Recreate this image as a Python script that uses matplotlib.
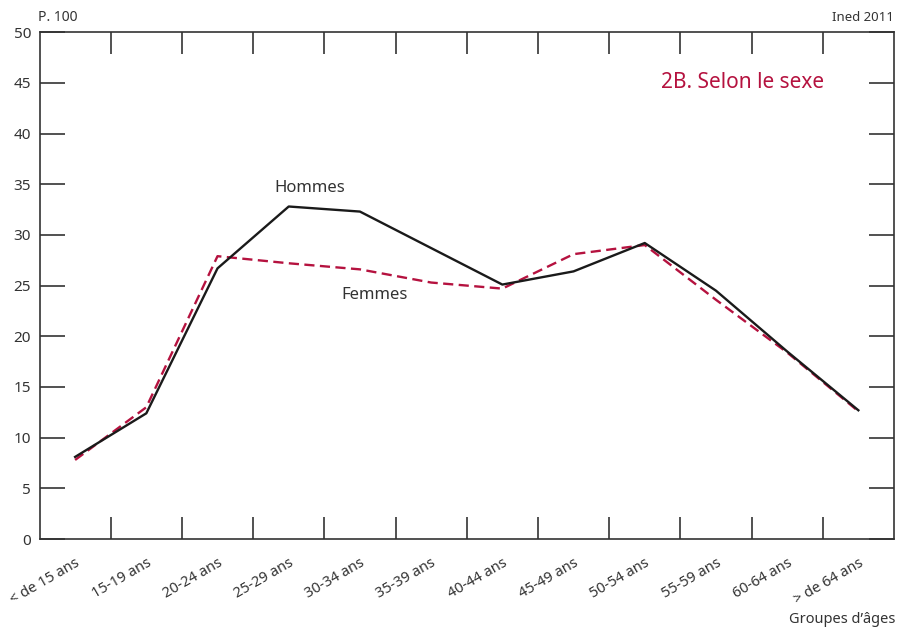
import matplotlib
matplotlib.use("Agg")
import matplotlib.pyplot as plt

plt.rcParams["font.family"] = ["Noto Sans", "DejaVu Sans"]

groupes = ["< de 15 ans", "15-19 ans", "20-24 ans", "25-29 ans", "30-34 ans",
           "35-39 ans", "40-44 ans", "45-49 ans", "50-54 ans", "55-59 ans",
           "60-64 ans", "> de 64 ans"]
hommes = [8.1, 12.4, 26.7, 32.8, 32.3, 28.7, 25.1, 26.4, 29.2, 24.5, 18.5, 12.7]
femmes = [7.8, 13.0, 27.9, 27.2, 26.6, 25.3, 24.7, 28.1, 29.0, 23.6, 18.4, 12.6]

rouge = "#b5123f"
gris = "#333333"

fig = plt.figure(figsize=(8.98, 6.30), dpi=100)
ax = fig.add_axes([0.044, 0.1444, 0.9515, 0.8046])

x = list(range(len(groupes)))
ax.plot(x, femmes, color=rouge, lw=1.7, dashes=(4.3, 2.3))
ax.plot(x, hommes, color="#1a1a1a", lw=1.7)

ax.set_xlim(-0.5, len(groupes) - 0.5)
ax.set_ylim(0, 50)
ax.set_yticks(range(0, 51, 5))
ax.tick_params(axis="y", direction="in", length=18, width=1.2, color=gris,
               right=True, labelsize=11, labelcolor=gris, pad=6)

# graduations entre les groupes, libellés au centre
ax.set_xticks(x)
ax.set_xticklabels(groupes, rotation=30, ha="right", rotation_mode="anchor",
                   fontsize=10.5, color=gris)
ax.set_xticks([i + 0.5 for i in x[:-1]], minor=True)
ax.tick_params(axis="x", which="major", length=0, pad=12)
ax.tick_params(axis="x", which="minor", direction="in", length=16, width=1.2,
               color=gris, top=True)

for s in ax.spines.values():
    s.set_color(gris)
    s.set_linewidth(1.2)

ax.text(3.3, 33.8, "Hommes", fontsize=12, color=gris, ha="center", va="bottom")
ax.text(4.2, 23.3, "Femmes", fontsize=12, color=gris, ha="center", va="bottom")
ax.text(9.37, 45.0, "2B. Selon le sexe", fontsize=15, color=rouge,
        ha="center", va="center")

fig.text(0.042, 0.966, "P. 100", fontsize=10, color=gris, ha="left")
fig.text(0.995, 0.966, "Ined 2011", fontsize=9.5, color=gris, ha="right")
fig.text(0.997, 0.005, "Groupes d\u2019âges", fontsize=10.5, color=gris,
         ha="right", va="bottom")

fig.savefig("out.png", dpi=100)
